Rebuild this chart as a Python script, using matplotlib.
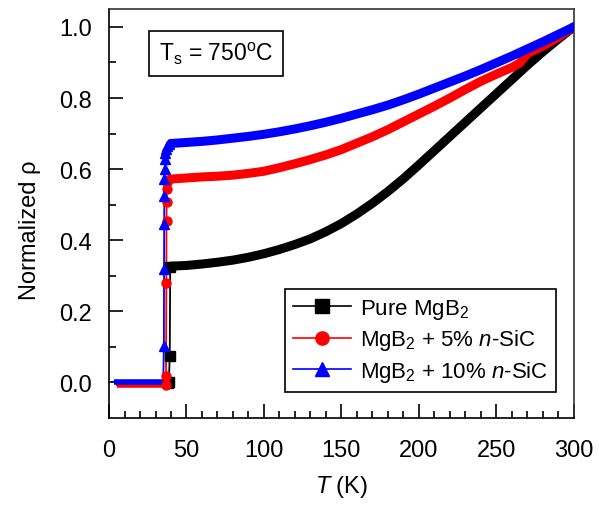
import numpy as np
import matplotlib
matplotlib.use('Agg')
import matplotlib.pyplot as plt
import matplotlib.ticker as ticker
from matplotlib.lines import Line2D

plt.rcParams['font.family'] = ['Liberation Sans', 'DejaVu Sans']
plt.rcParams['mathtext.fontset'] = 'custom'
plt.rcParams['mathtext.rm'] = 'Liberation Sans'
plt.rcParams['mathtext.it'] = 'Liberation Sans:italic'

# Pure MgB2
t_pure = [5, 10, 15, 20, 25, 30, 35, 38.0, 38.6, 39.2, 39.5,
          40, 50, 60, 70, 80, 90, 100, 110, 120, 130, 140, 150, 160, 170, 180,
          190, 200, 210, 220, 230, 240, 250, 260, 270, 280, 290, 300]
rho_pure = [-0.003, -0.003, -0.003, -0.003, -0.003, -0.003, -0.003, -0.003, 0.0, 0.075, 0.325,
            0.327, 0.329, 0.333, 0.338, 0.344, 0.352, 0.362, 0.374, 0.388, 0.404, 0.424,
            0.447, 0.474, 0.504, 0.537, 0.573, 0.612, 0.652, 0.692, 0.732, 0.772,
            0.812, 0.852, 0.892, 0.930, 0.966, 1.0]

# MgB2 + 5% n-SiC
t_5 = [5, 10, 15, 20, 25, 30, 35, 36.6, 36.8, 37.0, 37.1, 37.2, 37.4, 37.6, 38.0,
       40, 50, 60, 70, 80, 90, 100, 110, 120, 130, 140, 150, 160, 170, 180,
       190, 200, 210, 220, 230, 240, 250, 260, 265, 270, 280, 290, 300]
rho_5 = [-0.008, -0.008, -0.008, -0.008, -0.008, -0.008, -0.008, -0.008, 0.017, 0.28, 0.454,
         0.507, 0.544, 0.565, 0.570,
         0.572, 0.575, 0.578, 0.580, 0.583, 0.588, 0.594, 0.604, 0.615, 0.627, 0.640,
         0.655, 0.673, 0.691, 0.711, 0.733, 0.755, 0.777, 0.800, 0.824, 0.847,
         0.867, 0.886, 0.898, 0.925, 0.946, 0.971, 1.0]

# MgB2 + 10% n-SiC
t_10 = [3, 5, 10, 15, 20, 25, 30, 35, 35.4, 35.5, 35.6, 35.7, 35.8, 36.0, 36.2, 36.4,
        36.7, 37.2, 38.5,
        40, 50, 60, 70, 80, 90, 100, 110, 120, 130, 140, 150, 160, 170, 180,
        190, 200, 210, 220, 230, 240, 250, 260, 270, 280, 290, 300]
rho_10 = [0.002, 0.002, 0.002, 0.002, 0.002, 0.002, 0.002, 0.002, 0.102, 0.318, 0.445,
          0.525, 0.572, 0.600, 0.628, 0.645, 0.656, 0.666, 0.672,
          0.672, 0.675, 0.678, 0.682, 0.687, 0.692, 0.698, 0.705, 0.713, 0.722, 0.732,
          0.743, 0.755, 0.767, 0.780, 0.795, 0.811, 0.828, 0.845, 0.862, 0.880,
          0.899, 0.918, 0.938, 0.958, 0.979, 1.0]

labels = ['Pure MgB$_2$', 'MgB$_2$ + 5% $n$-SiC', 'MgB$_2$ + 10% $n$-SiC']
colors = ['black', '#ff0000', '#0000ff']
markers = ['s', 'o', '^']

fig = plt.figure(figsize=(5.99, 5.06), dpi=100)
ax = fig.add_axes([0.182, 0.172, 0.776, 0.808])

series = [(t_pure, rho_pure), (t_5, rho_5), (t_10, rho_10)]
for (t, r), c, m in zip(series, colors, markers):
    t = np.asarray(t, dtype=float)
    r = np.asarray(r, dtype=float)
    low = t < 35.2
    trans = (t >= 35.2) & (t < 39.9)
    nm = t >= 39.9
    # thin connecting line + markers through the transition
    ax.plot(t, r, color=c, lw=1.3, zorder=2)
    ax.plot(t[low], r[low], color=c, lw=4, solid_capstyle='butt', zorder=2)
    ax.plot(t[trans], r[trans], ls='none', marker=m, color=c, ms=6.5, zorder=3)
    # dense data in the normal state shows up as a thick band
    ax.plot(t[nm], r[nm], color=c, lw=6.5, solid_capstyle='round', zorder=3)

ax.set_xlim(0, 300)
ax.set_ylim(-0.1, 1.05)
ax.xaxis.set_major_locator(ticker.MultipleLocator(50))
ax.xaxis.set_minor_locator(ticker.MultipleLocator(10))
ax.set_yticks([0.0, 0.2, 0.4, 0.6, 0.8, 1.0])
ax.yaxis.set_minor_locator(ticker.FixedLocator([0.1, 0.3, 0.5, 0.7, 0.9]))
ax.yaxis.set_major_formatter(ticker.FormatStrFormatter('%.1f'))

ax.tick_params(which='both', direction='in', top=False, right=False,
               width=1.2, labelsize=17)
ax.tick_params(axis='x', which='major', pad=15)
ax.tick_params(axis='y', which='major', pad=12)
ax.tick_params(which='major', length=10)
ax.tick_params(which='minor', length=5)
for s in ax.spines.values():
    s.set_linewidth(1.2)
ax.spines['top'].set_color('#333333')
ax.spines['right'].set_color('#333333')

ax.set_xlabel(r'$\mathit{T}$ (K)', fontsize=17, labelpad=9)
ax.set_ylabel('Normalized ρ', fontsize=17)
ax.yaxis.set_label_coords(-0.147, 0.462)

ax.text(0.230, 0.892, r'T$_\mathregular{s}$ = 750$^\mathregular{o}$C',
        transform=ax.transAxes, fontsize=16.5, ha='center', va='center',
        bbox=dict(boxstyle='square,pad=0.42', fc='white', ec='black', lw=1.2))

handles = [Line2D([], [], color=c, lw=1.2, marker=m, ms=9.5) for c, m in zip(colors, markers)]
leg = ax.legend(handles, labels, loc='lower right', bbox_to_anchor=(0.961, 0.064),
                fontsize=16, frameon=True, fancybox=False, framealpha=1,
                edgecolor='black', handlelength=2.6, borderaxespad=0,
                labelspacing=0.3, handletextpad=0.4, borderpad=0.35)
leg.get_frame().set_linewidth(1.2)

fig.savefig('out.png', dpi=100)
